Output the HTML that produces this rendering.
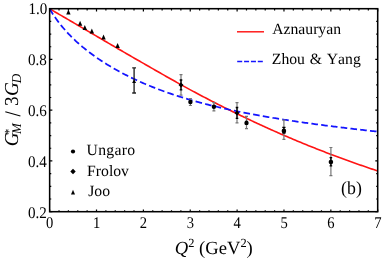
<!DOCTYPE html>
<html><head><meta charset="utf-8"><title>chart</title>
<style>html,body{margin:0;padding:0;background:#fff;}svg{display:block;will-change:transform;}text{font-family:"Liberation Serif",serif;fill:#000;text-rendering:geometricPrecision;}</style></head><body>
<svg width="382" height="260" viewBox="0 0 382 260">
<path d="M49.60 8.80 L50.97 9.59 L52.33 10.37 L53.70 11.16 L55.07 11.95 L56.44 12.74 L57.80 13.54 L59.17 14.33 L60.54 15.12 L61.90 15.91 L63.27 16.71 L64.64 17.50 L66.00 18.30 L67.37 19.10 L68.74 19.89 L70.11 20.69 L71.47 21.49 L72.84 22.29 L74.21 23.09 L75.57 23.89 L76.94 24.69 L78.31 25.49 L79.68 26.29 L81.04 27.09 L82.41 27.89 L83.78 28.69 L85.14 29.49 L86.51 30.29 L87.88 31.09 L89.25 31.90 L90.61 32.70 L91.98 33.50 L93.35 34.30 L94.71 35.10 L96.08 35.90 L97.45 36.70 L98.81 37.50 L100.18 38.31 L101.55 39.11 L102.92 39.91 L104.28 40.71 L105.65 41.51 L107.02 42.31 L108.38 43.11 L109.75 43.90 L111.12 44.70 L112.49 45.50 L113.85 46.30 L115.22 47.09 L116.59 47.89 L117.95 48.69 L119.32 49.48 L120.69 50.28 L122.06 51.07 L123.42 51.86 L124.79 52.66 L126.16 53.45 L127.52 54.24 L128.89 55.03 L130.26 55.82 L131.62 56.61 L132.99 57.39 L134.36 58.18 L135.73 58.97 L137.09 59.75 L138.46 60.54 L139.83 61.32 L141.19 62.10 L142.56 62.88 L143.93 63.67 L145.30 64.45 L146.66 65.24 L148.03 66.02 L149.40 66.80 L150.76 67.59 L152.13 68.37 L153.50 69.15 L154.87 69.94 L156.23 70.72 L157.60 71.50 L158.97 72.28 L160.33 73.06 L161.70 73.84 L163.07 74.62 L164.44 75.40 L165.80 76.18 L167.17 76.95 L168.54 77.73 L169.90 78.50 L171.27 79.27 L172.64 80.04 L174.00 80.81 L175.37 81.58 L176.74 82.34 L178.11 83.10 L179.47 83.86 L180.84 84.62 L182.21 85.38 L183.57 86.13 L184.94 86.89 L186.31 87.64 L187.68 88.38 L189.04 89.13 L190.41 89.87 L191.78 90.61 L193.14 91.34 L194.51 92.08 L195.88 92.81 L197.24 93.53 L198.61 94.26 L199.98 94.98 L201.35 95.70 L202.71 96.41 L204.08 97.13 L205.45 97.84 L206.81 98.55 L208.18 99.26 L209.55 99.97 L210.92 100.67 L212.28 101.37 L213.65 102.07 L215.02 102.77 L216.38 103.47 L217.75 104.17 L219.12 104.86 L220.49 105.55 L221.85 106.24 L223.22 106.93 L224.59 107.61 L225.95 108.29 L227.32 108.98 L228.69 109.65 L230.05 110.33 L231.42 111.01 L232.79 111.68 L234.16 112.35 L235.52 113.02 L236.89 113.69 L238.26 114.35 L239.62 115.01 L240.99 115.67 L242.36 116.33 L243.73 116.99 L245.09 117.64 L246.46 118.29 L247.83 118.94 L249.19 119.59 L250.56 120.24 L251.93 120.88 L253.30 121.52 L254.66 122.16 L256.03 122.80 L257.40 123.43 L258.76 124.06 L260.13 124.69 L261.50 125.32 L262.86 125.95 L264.23 126.57 L265.60 127.19 L266.97 127.81 L268.33 128.43 L269.70 129.05 L271.07 129.66 L272.43 130.27 L273.80 130.88 L275.17 131.48 L276.54 132.09 L277.90 132.69 L279.27 133.29 L280.64 133.89 L282.00 134.48 L283.37 135.08 L284.74 135.67 L286.11 136.26 L287.47 136.84 L288.84 137.43 L290.21 138.01 L291.57 138.59 L292.94 139.17 L294.31 139.74 L295.67 140.32 L297.04 140.89 L298.41 141.46 L299.78 142.02 L301.14 142.59 L302.51 143.15 L303.88 143.71 L305.24 144.27 L306.61 144.82 L307.98 145.38 L309.35 145.93 L310.71 146.48 L312.08 147.03 L313.45 147.57 L314.81 148.12 L316.18 148.66 L317.55 149.20 L318.92 149.73 L320.28 150.27 L321.65 150.80 L323.02 151.33 L324.38 151.86 L325.75 152.39 L327.12 152.91 L328.49 153.43 L329.85 153.95 L331.22 154.47 L332.59 154.99 L333.95 155.50 L335.32 156.01 L336.69 156.53 L338.05 157.03 L339.42 157.54 L340.79 158.04 L342.16 158.55 L343.52 159.05 L344.89 159.55 L346.26 160.04 L347.62 160.54 L348.99 161.03 L350.36 161.52 L351.73 162.01 L353.09 162.50 L354.46 162.98 L355.83 163.47 L357.19 163.95 L358.56 164.43 L359.93 164.91 L361.29 165.38 L362.66 165.86 L364.03 166.33 L365.40 166.80 L366.76 167.27 L368.13 167.74 L369.50 168.20 L370.86 168.67 L372.23 169.13 L373.60 169.59 L374.97 170.05 L376.33 170.51 L377.70 170.97" fill="none" stroke="#ff1414" stroke-width="1.62"/>
<path d="M49.60 8.80 L50.97 11.06 L52.33 13.23 L53.70 15.31 L55.07 17.31 L56.44 19.24 L57.80 21.11 L59.17 22.90 L60.54 24.64 L61.90 26.33 L63.27 27.96 L64.64 29.54 L66.00 31.08 L67.37 32.58 L68.74 34.03 L70.11 35.45 L71.47 36.83 L72.84 38.18 L74.21 39.49 L75.57 40.78 L76.94 42.03 L78.31 43.26 L79.68 44.46 L81.04 45.64 L82.41 46.80 L83.78 47.93 L85.14 49.04 L86.51 50.13 L87.88 51.20 L89.25 52.25 L90.61 53.28 L91.98 54.29 L93.35 55.29 L94.71 56.27 L96.08 57.23 L97.45 58.18 L98.81 59.11 L100.18 60.03 L101.55 60.94 L102.92 61.83 L104.28 62.70 L105.65 63.57 L107.02 64.42 L108.38 65.26 L109.75 66.08 L111.12 66.90 L112.49 67.70 L113.85 68.49 L115.22 69.27 L116.59 70.04 L117.95 70.80 L119.32 71.55 L120.69 72.29 L122.06 73.02 L123.42 73.74 L124.79 74.45 L126.16 75.15 L127.52 75.84 L128.89 76.52 L130.26 77.19 L131.62 77.85 L132.99 78.51 L134.36 79.16 L135.73 79.80 L137.09 80.43 L138.46 81.05 L139.83 81.66 L141.19 82.27 L142.56 82.87 L143.93 83.46 L145.30 84.05 L146.66 84.62 L148.03 85.19 L149.40 85.76 L150.76 86.31 L152.13 86.86 L153.50 87.41 L154.87 87.94 L156.23 88.47 L157.60 89.00 L158.97 89.51 L160.33 90.02 L161.70 90.53 L163.07 91.03 L164.44 91.52 L165.80 92.01 L167.17 92.49 L168.54 92.97 L169.90 93.44 L171.27 93.90 L172.64 94.36 L174.00 94.82 L175.37 95.27 L176.74 95.71 L178.11 96.15 L179.47 96.59 L180.84 97.02 L182.21 97.44 L183.57 97.86 L184.94 98.28 L186.31 98.69 L187.68 99.09 L189.04 99.49 L190.41 99.89 L191.78 100.29 L193.14 100.67 L194.51 101.06 L195.88 101.44 L197.24 101.82 L198.61 102.19 L199.98 102.56 L201.35 102.92 L202.71 103.28 L204.08 103.64 L205.45 103.99 L206.81 104.34 L208.18 104.69 L209.55 105.03 L210.92 105.37 L212.28 105.71 L213.65 106.04 L215.02 106.37 L216.38 106.70 L217.75 107.02 L219.12 107.34 L220.49 107.66 L221.85 107.97 L223.22 108.28 L224.59 108.59 L225.95 108.89 L227.32 109.19 L228.69 109.49 L230.05 109.79 L231.42 110.08 L232.79 110.37 L234.16 110.66 L235.52 110.94 L236.89 111.23 L238.26 111.51 L239.62 111.78 L240.99 112.06 L242.36 112.33 L243.73 112.60 L245.09 112.87 L246.46 113.13 L247.83 113.40 L249.19 113.66 L250.56 113.92 L251.93 114.17 L253.30 114.43 L254.66 114.68 L256.03 114.93 L257.40 115.18 L258.76 115.42 L260.13 115.67 L261.50 115.91 L262.86 116.15 L264.23 116.39 L265.60 116.62 L266.97 116.86 L268.33 117.09 L269.70 117.32 L271.07 117.55 L272.43 117.78 L273.80 118.00 L275.17 118.22 L276.54 118.45 L277.90 118.67 L279.27 118.89 L280.64 119.10 L282.00 119.32 L283.37 119.53 L284.74 119.74 L286.11 119.96 L287.47 120.16 L288.84 120.37 L290.21 120.58 L291.57 120.78 L292.94 120.99 L294.31 121.19 L295.67 121.39 L297.04 121.59 L298.41 121.79 L299.78 121.99 L301.14 122.18 L302.51 122.38 L303.88 122.57 L305.24 122.76 L306.61 122.95 L307.98 123.14 L309.35 123.33 L310.71 123.52 L312.08 123.71 L313.45 123.89 L314.81 124.08 L316.18 124.26 L317.55 124.44 L318.92 124.62 L320.28 124.80 L321.65 124.98 L323.02 125.16 L324.38 125.34 L325.75 125.51 L327.12 125.69 L328.49 125.86 L329.85 126.03 L331.22 126.21 L332.59 126.38 L333.95 126.55 L335.32 126.72 L336.69 126.89 L338.05 127.06 L339.42 127.22 L340.79 127.39 L342.16 127.55 L343.52 127.72 L344.89 127.88 L346.26 128.05 L347.62 128.21 L348.99 128.37 L350.36 128.53 L351.73 128.69 L353.09 128.85 L354.46 129.01 L355.83 129.17 L357.19 129.33 L358.56 129.48 L359.93 129.64 L361.29 129.79 L362.66 129.95 L364.03 130.10 L365.40 130.26 L366.76 130.41 L368.13 130.56 L369.50 130.71 L370.86 130.86 L372.23 131.02 L373.60 131.17 L374.97 131.31 L376.33 131.46 L377.70 131.61" fill="none" stroke="#1414ff" stroke-width="1.75" stroke-dasharray="6.62 3.215"/>
<path d="M49.65 211.70v-2.30M49.65 8.70v2.70M59.02 211.70v-1.40M59.02 8.70v1.70M68.40 211.70v-1.40M68.40 8.70v1.70M77.77 211.70v-1.40M77.77 8.70v1.70M87.14 211.70v-1.40M87.14 8.70v1.70M96.51 211.70v-2.30M96.51 8.70v2.70M105.89 211.70v-1.40M105.89 8.70v1.70M115.26 211.70v-1.40M115.26 8.70v1.70M124.63 211.70v-1.40M124.63 8.70v1.70M134.01 211.70v-1.40M134.01 8.70v1.70M143.38 211.70v-2.30M143.38 8.70v2.70M152.75 211.70v-1.40M152.75 8.70v1.70M162.12 211.70v-1.40M162.12 8.70v1.70M171.50 211.70v-1.40M171.50 8.70v1.70M180.87 211.70v-1.40M180.87 8.70v1.70M190.24 211.70v-2.30M190.24 8.70v2.70M199.62 211.70v-1.40M199.62 8.70v1.70M208.99 211.70v-1.40M208.99 8.70v1.70M218.36 211.70v-1.40M218.36 8.70v1.70M227.73 211.70v-1.40M227.73 8.70v1.70M237.11 211.70v-2.30M237.11 8.70v2.70M246.48 211.70v-1.40M246.48 8.70v1.70M255.85 211.70v-1.40M255.85 8.70v1.70M265.23 211.70v-1.40M265.23 8.70v1.70M274.60 211.70v-1.40M274.60 8.70v1.70M283.97 211.70v-2.30M283.97 8.70v2.70M293.34 211.70v-1.40M293.34 8.70v1.70M302.72 211.70v-1.40M302.72 8.70v1.70M312.09 211.70v-1.40M312.09 8.70v1.70M321.46 211.70v-1.40M321.46 8.70v1.70M330.84 211.70v-2.30M330.84 8.70v2.70M340.21 211.70v-1.40M340.21 8.70v1.70M349.58 211.70v-1.40M349.58 8.70v1.70M358.95 211.70v-1.40M358.95 8.70v1.70M368.33 211.70v-1.40M368.33 8.70v1.70M377.70 211.70v-2.30M377.70 8.70v2.70M49.65 211.70h2.70M377.70 211.70h-2.40M49.65 199.01h1.60M377.70 199.01h-1.50M49.65 186.32h1.60M377.70 186.32h-1.50M49.65 173.64h1.60M377.70 173.64h-1.50M49.65 160.95h2.70M377.70 160.95h-2.40M49.65 148.26h1.60M377.70 148.26h-1.50M49.65 135.57h1.60M377.70 135.57h-1.50M49.65 122.89h1.60M377.70 122.89h-1.50M49.65 110.20h2.70M377.70 110.20h-2.40M49.65 97.51h1.60M377.70 97.51h-1.50M49.65 84.83h1.60M377.70 84.83h-1.50M49.65 72.14h1.60M377.70 72.14h-1.50M49.65 59.45h2.70M377.70 59.45h-2.40M49.65 46.76h1.60M377.70 46.76h-1.50M49.65 34.07h1.60M377.70 34.07h-1.50M49.65 21.39h1.60M377.70 21.39h-1.50M49.65 8.70h2.70M377.70 8.70h-2.40" stroke="#000" stroke-width="1.2" fill="none"/>
<rect x="49.65" y="8.70" width="328.05" height="203.00" fill="none" stroke="#000" stroke-width="1.55"/>
<path d="M68.40 9.50L70.60 14.50H66.20z" fill="#000"/>
<path d="M80.11 20.80L82.31 25.80H77.91z" fill="#000"/>
<path d="M84.80 25.10L87.00 30.10H82.60z" fill="#000"/>
<path d="M91.83 28.60L94.03 33.60H89.63z" fill="#000"/>
<path d="M103.54 34.40L105.74 39.40H101.34z" fill="#000"/>
<path d="M117.60 42.90L119.80 47.90H115.40z" fill="#000"/>
<path d="M134.10 67.90V93.00M132.20 67.90h3.80M132.20 93.00h3.80" stroke="#222" stroke-width="1.35" fill="none"/>
<path d="M134.10 79.30L136.10 83.00H132.10z" fill="#000"/>
<path d="M181.00 74.60V95.20M179.50 74.60h3.00M179.50 95.20h3.00" stroke="#777777" stroke-width="1.20" fill="none"/>
<path d="M181.00 80.00V89.80M179.70 80.00h2.60M179.70 89.80h2.60" stroke="#000" stroke-width="1.30" fill="none"/>
<path d="M181.00 82.50l2.50 2.50l-2.50 2.50l-2.50 -2.50z" fill="#000"/>
<path d="M190.40 98.50V105.50M188.90 98.50h3.00M188.90 105.50h3.00" stroke="#777777" stroke-width="1.20" fill="none"/>
<circle cx="190.40" cy="102.00" r="2.20" fill="#000"/>
<path d="M213.90 102.60V110.80M212.40 102.60h3.00M212.40 110.80h3.00" stroke="#777777" stroke-width="1.20" fill="none"/>
<circle cx="213.90" cy="106.80" r="2.20" fill="#000"/>
<path d="M237.00 102.60V122.90M235.50 102.60h3.00M235.50 122.90h3.00" stroke="#777777" stroke-width="1.20" fill="none"/>
<path d="M237.00 107.50V118.30M235.70 107.50h2.60M235.70 118.30h2.60" stroke="#000" stroke-width="1.30" fill="none"/>
<path d="M237.00 110.50l2.50 2.50l-2.50 2.50l-2.50 -2.50z" fill="#000"/>
<path d="M246.50 116.30V128.70M245.00 116.30h3.00M245.00 128.70h3.00" stroke="#777777" stroke-width="1.20" fill="none"/>
<path d="M246.50 121.50V124.30M245.20 121.50h2.60M245.20 124.30h2.60" stroke="#000" stroke-width="1.30" fill="none"/>
<circle cx="246.50" cy="122.90" r="2.20" fill="#000"/>
<path d="M283.90 120.20V139.40M282.40 120.20h3.00M282.40 139.40h3.00" stroke="#777777" stroke-width="1.20" fill="none"/>
<path d="M283.90 127.40V133.00M282.30 127.40h3.20M282.30 133.00h3.20" stroke="#000" stroke-width="1.30" fill="none"/>
<circle cx="283.90" cy="130.90" r="2.30" fill="#000"/>
<path d="M330.90 147.50V175.60M329.40 147.50h3.00M329.40 175.60h3.00" stroke="#777777" stroke-width="1.20" fill="none"/>
<path d="M330.90 157.60V165.80M329.60 157.60h2.60M329.60 165.80h2.60" stroke="#000" stroke-width="1.30" fill="none"/>
<circle cx="330.90" cy="162.00" r="2.30" fill="#000"/>
<circle cx="73.00" cy="151.50" r="2.10" fill="#000"/>
<path d="M73.00 168.80l2.70 2.70l-2.70 2.70l-2.70 -2.70z" fill="#000"/>
<path d="M73.00 189.80L75.00 194.40H71.00z" fill="#000"/>
<text x="86.6" y="155.2" font-size="15.7" letter-spacing="0.3">Ungaro</text>
<text transform="translate(87.1 175.5) rotate(0.02)" font-size="15.7">Frolov</text>
<text transform="translate(88.2 195.8) rotate(0.02)" font-size="15.7">Joo</text>
<path d="M237 31.8H264" stroke="#ff1414" stroke-width="1.45"/>
<path d="M237.2 61.5H263" stroke="#1414ff" stroke-width="1.45" stroke-dasharray="5 1.87"/>
<text transform="translate(272.2 34.1)" font-size="15.7">Aznauryan</text>
<text x="271.8" y="64.1" font-size="15.7" word-spacing="0.9" style="font-kerning:none">Zhou &amp; Yang</text>
<text transform="translate(341.1 194.4) rotate(0.02) scale(1.01 1.05)" font-size="17.6">(b)</text>
<text transform="translate(49.75 228.0) scale(1.0 1.12)" font-size="14.6" text-anchor="middle">0</text>
<text transform="translate(96.61 228.0) scale(1.0 1.12)" font-size="14.6" text-anchor="middle">1</text>
<text transform="translate(143.48 228.0) scale(1.0 1.12)" font-size="14.6" text-anchor="middle">2</text>
<text transform="translate(190.34 228.0) scale(1.0 1.12)" font-size="14.6" text-anchor="middle">3</text>
<text transform="translate(237.21 228.0) scale(1.0 1.12)" font-size="14.6" text-anchor="middle">4</text>
<text transform="translate(284.07 228.0) scale(1.0 1.12)" font-size="14.6" text-anchor="middle">5</text>
<text transform="translate(330.94 228.0) scale(1.0 1.12)" font-size="14.6" text-anchor="middle">6</text>
<text transform="translate(377.80 228.0) scale(1.0 1.12)" font-size="14.6" text-anchor="middle">7</text>
<text transform="translate(46.9 217.60) scale(1.034 1.11)" font-size="14.6" text-anchor="end">0.2</text>
<text transform="translate(46.9 166.85) scale(1.034 1.11)" font-size="14.6" text-anchor="end">0.4</text>
<text transform="translate(46.9 116.10) scale(1.034 1.11)" font-size="14.6" text-anchor="end">0.6</text>
<text transform="translate(46.9 65.35) scale(1.034 1.11)" font-size="14.6" text-anchor="end">0.8</text>
<text transform="translate(47.3 14.00) scale(1.034 1.11)" font-size="14.6" text-anchor="end">1.0</text>
<text x="213.8" y="254" font-size="18.6" text-anchor="middle"><tspan font-style="italic">Q</tspan><tspan font-size="12.4" dy="-6.7">2</tspan><tspan dy="6.7"> (GeV</tspan><tspan font-size="12.4" dy="-6.7">2</tspan><tspan dy="6.7">)</tspan></text>
<path d="M5.3 111.75L20.4 116.1" stroke="#000" stroke-width="1.05" fill="none"/>
<g transform="translate(17.7 146.2) rotate(-90) scale(1 1.03)" font-size="19.2">
<text x="0" y="0" font-style="italic">G</text>
<text x="11.5" y="-4.6" font-size="12">*</text>
<text x="12.25" y="3.2" font-size="12.9" font-style="italic">M</text>
<text x="40.1" y="0">3</text>
<text x="50.3" y="0" font-style="italic">G</text>
<text x="62.9" y="3.2" font-size="13.2" font-style="italic">D</text>
</g>
</svg></body></html>
